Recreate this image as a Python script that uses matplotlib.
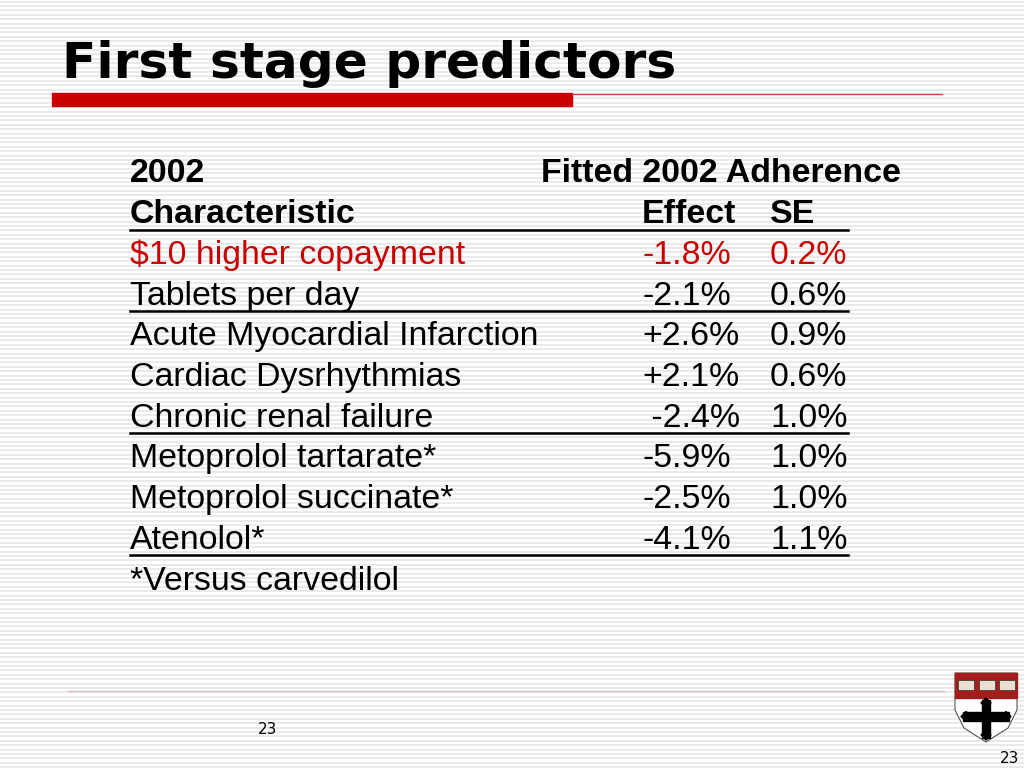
import matplotlib.pyplot as plt
from matplotlib.patches import Rectangle, Polygon
import numpy as np

# table contents
header1 = ['2002', 'Fitted 2002 Adherence']
header2 = ['Characteristic', 'Effect', 'SE']
characteristics = ['$10 higher copayment', 'Tablets per day', 'Acute Myocardial Infarction',
                   'Cardiac Dysrhythmias', 'Chronic renal failure', 'Metoprolol tartarate*',
                   'Metoprolol succinate*', 'Atenolol*']
effects = ['-1.8%', '-2.1%', '+2.6%', '+2.1%', ' -2.4%', '-5.9%', '-2.5%', '-4.1%']
ses = ['0.2%', '0.6%', '0.9%', '0.6%', '1.0%', '1.0%', '1.0%', '1.1%']
underlined = [False, True, False, False, True, False, False, True]
highlight = [True, False, False, False, False, False, False, False]
footnote = '*Versus carvedilol'
slide_no = '23'

W, H = 1024, 768
fig = plt.figure(figsize=(W / 100, H / 100), dpi=100)
ax = fig.add_axes([0, 0, 1, 1])
ax.set_xlim(0, W)
ax.set_ylim(H, 0)
ax.axis('off')

# striped background
for y in np.arange(1.5, H, 4.4):
    ax.plot([0, W], [y, y], color='#e4e4e4', lw=1.1, zorder=0)

# title + red bar
ax.text(62, 78, 'First stage predictors', fontsize=36.2, fontweight='bold',
        family=['DejaVu Sans'], va='baseline', ha='left')
ax.add_patch(Rectangle((52, 93), 520, 13, color='#cc0000', zorder=2))
ax.plot([572, 942], [93.5, 93.5], color='#cc4444', lw=1, zorder=2)

fs = 24.4
red = '#cc0000'
fam = ['Liberation Sans', 'DejaVu Sans']
x0, xe, xs = 130, 642, 770
base = 182.5 + 40.7 * np.arange(11)

def cell(x, y, s, bold=False, color='black'):
    ax.text(x, y, s, fontsize=fs, family=fam, va='baseline', ha='left',
            fontweight='bold' if bold else 'normal', color=color)

cell(x0, base[0], header1[0], bold=True)
cell(541, base[0], header1[1], bold=True)
cell(x0, base[1], header2[0], bold=True)
cell(xe, base[1], header2[1], bold=True)
cell(xs, base[1], header2[2], bold=True)
ax.plot([x0, 848], [base[1] + 6.5, base[1] + 6.5], color='black', lw=1.8)

for i, (c, e, s) in enumerate(zip(characteristics, effects, ses)):
    y = base[i + 2]
    col = red if highlight[i] else 'black'
    cell(x0, y, c, color=col)
    cell(xe, y, e, color=col)
    cell(xs, y, s, color=col)
    if underlined[i]:
        ax.plot([x0, 848], [y + 6.5, y + 6.5], color='black', lw=1.8)

cell(x0, base[10], footnote)

# footer
ax.plot([68, 944], [691, 691], color='#d8b8b8', lw=1)
ax.text(258, 734, slide_no, fontsize=11, family=['DejaVu Sans'], va='baseline')
ax.text(1000, 763, slide_no, fontsize=11, family=['DejaVu Sans'], va='baseline')

# shield logo (simplified)
ax.add_patch(Polygon([[955, 673], [1017, 673], [1017, 710], [1008, 728], [986, 742],
                      [964, 728], [955, 710]], closed=True, fc='white', ec='#555555', lw=0.8, zorder=3))
ax.add_patch(Rectangle((955, 673), 62, 25, color='#a51c1c', zorder=4))
for bx in [958, 979, 999]:
    ax.add_patch(Rectangle((bx, 680), 16, 10, fc='#e8e0d0', ec='#333333', lw=0.5, zorder=5))
ax.add_patch(Rectangle((982, 700), 8, 38, color='black', zorder=5))
ax.add_patch(Rectangle((963, 712), 46, 9, color='black', zorder=5))
for cx, cy in [(986, 703), (986, 735), (966, 716.5), (1006, 716.5)]:
    ax.add_patch(Polygon([[cx - 5, cy], [cx, cy - 5], [cx + 5, cy], [cx, cy + 5]],
                         closed=True, color='black', zorder=5))

fig.savefig('out.png', dpi=100)
